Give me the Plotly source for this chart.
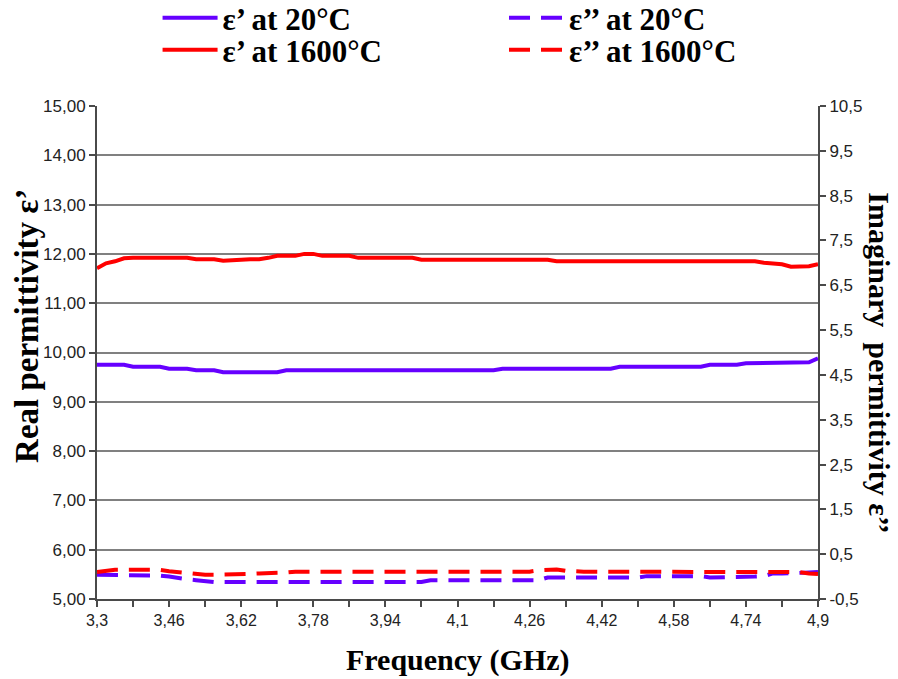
import plotly.graph_objects as go

# Frequency sweep (GHz)
freq = [
    3.30, 3.32, 3.34, 3.36, 3.38, 3.40, 3.42, 3.44, 3.46, 3.48,
    3.50, 3.52, 3.54, 3.56, 3.58, 3.60, 3.62, 3.64, 3.66, 3.68,
    3.70, 3.72, 3.74, 3.76, 3.78, 3.80, 3.82, 3.84, 3.86, 3.88,
    3.90, 3.92, 3.94, 3.96, 3.98, 4.00, 4.02, 4.04, 4.06, 4.08,
    4.10, 4.12, 4.14, 4.16, 4.18, 4.20, 4.22, 4.24, 4.26, 4.28,
    4.30, 4.32, 4.34, 4.36, 4.38, 4.40, 4.42, 4.44, 4.46, 4.48,
    4.50, 4.52, 4.54, 4.56, 4.58, 4.60, 4.62, 4.64, 4.66, 4.68,
    4.70, 4.72, 4.74, 4.76, 4.78, 4.80, 4.82, 4.84, 4.86, 4.88,
    4.90,
]

# Real permittivity at 20 °C
eps1_20 = [
    9.75, 9.75, 9.75, 9.75, 9.71, 9.71, 9.71, 9.71, 9.67, 9.67,
    9.67, 9.64, 9.64, 9.64, 9.60, 9.60, 9.60, 9.60, 9.60, 9.60,
    9.60, 9.64, 9.64, 9.64, 9.64, 9.64, 9.64, 9.64, 9.64, 9.64,
    9.64, 9.64, 9.64, 9.64, 9.64, 9.64, 9.64, 9.64, 9.64, 9.64,
    9.64, 9.64, 9.64, 9.64, 9.64, 9.67, 9.67, 9.67, 9.67, 9.67,
    9.67, 9.67, 9.67, 9.67, 9.67, 9.67, 9.67, 9.67, 9.71, 9.71,
    9.71, 9.71, 9.71, 9.71, 9.71, 9.71, 9.71, 9.71, 9.75, 9.75,
    9.75, 9.75, 9.78, 9.78, 9.78, 9.78, 9.78, 9.78, 9.78, 9.80,
    9.88,
]

# Real permittivity at 1600 °C
eps1_1600 = [
    11.71, 11.81, 11.85, 11.91, 11.92, 11.92, 11.92, 11.92, 11.92, 11.92,
    11.92, 11.89, 11.89, 11.89, 11.86, 11.86, 11.88, 11.89, 11.89, 11.92,
    11.96, 11.96, 11.96, 12.00, 12.00, 11.96, 11.96, 11.96, 11.96, 11.92,
    11.92, 11.92, 11.92, 11.92, 11.92, 11.92, 11.88, 11.88, 11.88, 11.88,
    11.88, 11.88, 11.88, 11.88, 11.88, 11.88, 11.88, 11.88, 11.88, 11.88,
    11.88, 11.85, 11.85, 11.85, 11.85, 11.85, 11.85, 11.85, 11.85, 11.85,
    11.85, 11.85, 11.85, 11.85, 11.85, 11.85, 11.85, 11.85, 11.85, 11.85,
    11.85, 11.85, 11.85, 11.85, 11.82, 11.80, 11.79, 11.74, 11.74, 11.75,
    11.79,
]

# Imaginary permittivity at 20 °C
eps2_20 = [
    0.04, 0.04, 0.04, 0.04, 0.04, 0.04, 0.04, 0.02, 0.00, -0.04,
    -0.06, -0.08, -0.11, -0.12, -0.12, -0.12, -0.12, -0.12, -0.12, -0.12,
    -0.12, -0.12, -0.12, -0.12, -0.12, -0.12, -0.12, -0.12, -0.12, -0.12,
    -0.12, -0.12, -0.12, -0.12, -0.12, -0.12, -0.12, -0.08, -0.08, -0.08,
    -0.08, -0.08, -0.08, -0.08, -0.08, -0.08, -0.08, -0.08, -0.08, -0.08,
    -0.02, -0.02, -0.02, -0.02, -0.02, -0.02, -0.02, -0.02, -0.02, -0.02,
    -0.02, 0.01, 0.01, 0.01, 0.01, 0.01, 0.01, 0.01, -0.02, -0.02,
    -0.02, -0.02, -0.02, 0.00, 0.01, 0.07, 0.07, 0.07, 0.08, 0.09,
    0.10,
]

# Imaginary permittivity at 1600 °C
eps2_1600 = [
    0.10, 0.13, 0.15, 0.15, 0.15, 0.15, 0.15, 0.15, 0.12, 0.10,
    0.07, 0.04, 0.04, 0.04, 0.04, 0.04, 0.04, 0.06, 0.07, 0.07,
    0.07, 0.09, 0.11, 0.11, 0.11, 0.11, 0.11, 0.11, 0.11, 0.11,
    0.11, 0.11, 0.11, 0.11, 0.11, 0.11, 0.11, 0.11, 0.11, 0.11,
    0.11, 0.11, 0.11, 0.11, 0.11, 0.11, 0.11, 0.11, 0.11, 0.14,
    0.16, 0.16, 0.13, 0.11, 0.11, 0.11, 0.11, 0.11, 0.11, 0.11,
    0.11, 0.11, 0.11, 0.11, 0.11, 0.11, 0.11, 0.11, 0.11, 0.11,
    0.11, 0.11, 0.11, 0.11, 0.11, 0.10, 0.10, 0.10, 0.10, 0.07,
    0.06,
]

# Axis ticks
freq_ticks = [3.3, 3.46, 3.62, 3.78, 3.94, 4.1, 4.26, 4.42, 4.58, 4.74, 4.9]
freq_tick_labels = ["3,3", "3,46", "3,62", "3,78", "3,94", "4,1",
                    "4,26", "4,42", "4,58", "4,74", "4,9"]
imag_ticks = [-0.5, 0.5, 1.5, 2.5, 3.5, 4.5, 5.5, 6.5, 7.5, 8.5, 9.5, 10.5]
imag_tick_labels = ["-0,5", "0,5", "1,5", "2,5", "3,5", "4,5",
                    "5,5", "6,5", "7,5", "8,5", "9,5", "10,5"]

PURPLE = "#6600ff"
RED = "#ff0000"
AXIS = "#4a4a4a"
SERIF = "Liberation Serif, Times New Roman, serif"
SANS = "Liberation Sans, Arial, sans-serif"
DASH = "21px,11px"

minor_ticks = [(a + b) / 2 for a, b in zip(freq_ticks[:-1], freq_ticks[1:])]

fig = go.Figure()
fig.add_trace(go.Scatter(x=freq, y=eps1_20, mode="lines", name="ε’ at 20°C",
                         line=dict(color=PURPLE, width=4), legend="legend"))
fig.add_trace(go.Scatter(x=freq, y=eps1_1600, mode="lines", name="ε’ at 1600°C",
                         line=dict(color=RED, width=4), legend="legend2"))
fig.add_trace(go.Scatter(x=freq, y=eps2_20, mode="lines", name="ε’’ at 20°C",
                         line=dict(color=PURPLE, width=4, dash=DASH),
                         yaxis="y2", legend="legend3"))
fig.add_trace(go.Scatter(x=freq, y=eps2_1600, mode="lines", name="ε’’ at 1600°C",
                         line=dict(color=RED, width=4, dash=DASH),
                         yaxis="y2", legend="legend4"))

legend_font = dict(family=SERIF, size=31, color="black", weight="bold")


def legend_box(x, y):
    return dict(x=x, y=y, xanchor="left", yanchor="middle", font=legend_font,
                bgcolor="rgba(0,0,0,0)", borderwidth=0, itemwidth=55)


tick_font = dict(family=SANS, size=17, color="#222222")
xtick_font = dict(family=SANS, size=16, color="#222222")
title_font = dict(family=SERIF, size=30, color="black", weight="bold")
ytitle_font = dict(family=SERIF, size=33, color="black", weight="bold")

fig.update_layout(
    width=898, height=679, autosize=False,
    margin=dict(l=97, r=80, t=106, b=80, pad=0, autoexpand=False),
    paper_bgcolor="white", plot_bgcolor="white",
    showlegend=True,
    legend=legend_box(0.084, 1.1785),
    legend2=legend_box(0.084, 1.1136),
    legend3=legend_box(0.5645, 1.1785),
    legend4=legend_box(0.5645, 1.1136),
    xaxis=dict(
        range=[3.3, 4.9], tickvals=freq_ticks, ticktext=freq_tick_labels,
        ticks="outside", ticklen=6, tickwidth=1.5, tickcolor=AXIS,
        minor=dict(tickvals=minor_ticks, ticks="outside", ticklen=6,
                   tickwidth=1.5, tickcolor=AXIS),
        showline=True, linecolor=AXIS, linewidth=2,
        showgrid=False, zeroline=False, tickfont=xtick_font,
    ),
    yaxis=dict(
        range=[5, 15], dtick=1, tick0=5, tickformat=".2f",
        ticks="outside", ticklen=6, tickwidth=1.5, tickcolor=AXIS,
        showline=True, linecolor=AXIS, linewidth=2,
        showgrid=True, gridcolor="#808080", gridwidth=1.5,
        zeroline=False, tickfont=tick_font,
    ),
    yaxis2=dict(
        range=[-0.5, 10.5], overlaying="y", side="right",
        tickvals=imag_ticks, ticktext=imag_tick_labels,
        ticks="outside", ticklen=6, tickwidth=1.5, tickcolor=AXIS,
        showline=True, linecolor=AXIS, linewidth=2,
        showgrid=False, zeroline=False, tickfont=tick_font,
    ),
    separators=",.",
    annotations=[
        dict(text="Real permittivity ε’", xref="paper", yref="paper",
             x=-0.097, y=0.554, textangle=-90, showarrow=False,
             font=ytitle_font, xanchor="center", yanchor="middle"),
        dict(text="Imaginary\u00a0 permittivity ε’’", xref="paper", yref="paper",
             x=1.086, y=0.48, textangle=90, showarrow=False,
             font=title_font, xanchor="center", yanchor="middle"),
        dict(text="Frequency (GHz)", xref="paper", yref="paper",
             x=0.5, y=-0.124, showarrow=False,
             font=title_font, xanchor="center", yanchor="middle"),
    ],
)

fig.write_html("out.html")
